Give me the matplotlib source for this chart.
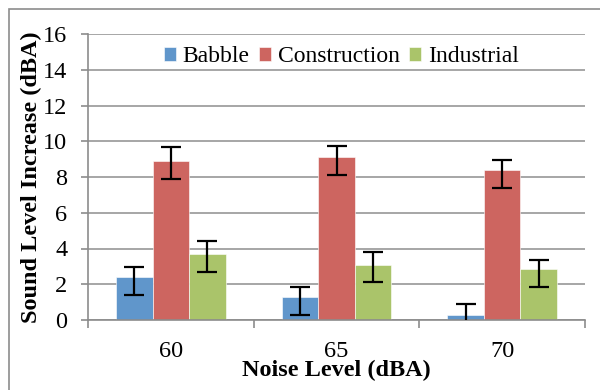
import numpy as np
import matplotlib
matplotlib.use('Agg')
from matplotlib import pyplot as plt
from matplotlib.patches import Rectangle

noise_levels = ['60', '65', '70']
series = ['Babble', 'Construction', 'Industrial']
babble = [2.38, 1.28, 0.26]
construction = [8.87, 9.10, 8.40]
industrial = [3.71, 3.08, 2.84]
# asymmetric error bars (lower, upper)
babble_err = [[0.99, 1.00, 1.00], [0.57, 0.58, 0.65]]
construction_err = [[0.98, 0.99, 1.03], [0.82, 0.61, 0.55]]
industrial_err = [[1.02, 0.98, 0.98], [0.69, 0.71, 0.54]]
colors = ['#6096CB', '#CD6560', '#AAC46A']

plt.rcParams['font.family'] = ['Liberation Serif', 'DejaVu Serif']

fig = plt.figure(figsize=(6, 3.9), dpi=100)
ax = fig.add_axes([88/600, 70/390, 497/600, 286/390])

# outer chart border (only top and left visible in the crop)
fig.patches.append(Rectangle((9/600, -0.1), 1.2, 1.077, transform=fig.transFigure,
                             fill=False, edgecolor='#8C8C8C', linewidth=1.2))

x = np.arange(len(noise_levels))
w = 0.221
data = [babble, construction, industrial]
errs = [babble_err, construction_err, industrial_err]
for i in range(3):
    ax.bar(x + (i - 1) * w, data[i], width=w, color=colors[i], label=series[i],
           edgecolor='white', linewidth=0.4, zorder=2)
    ax.errorbar(x + (i - 1) * w, data[i], yerr=errs[i], fmt='none', ecolor='black',
                elinewidth=1.6, capsize=7, capthick=1.6, zorder=3)

ax.set_xlim(-0.5, 2.5)
ax.set_ylim(0, 16)
ax.set_yticks(np.arange(0, 17, 2))
ax.yaxis.grid(True, color='#A6A6A6', linewidth=1.4, zorder=0)
ax.set_axisbelow(True)

for s in ['top', 'right']:
    ax.spines[s].set_visible(False)
for s in ['left', 'bottom']:
    ax.spines[s].set_color('#8C8C8C')
    ax.spines[s].set_linewidth(1.2)

ax.set_xticks(x)
ax.set_xticklabels(noise_levels)
ax.set_xticks([-0.5, 0.5, 1.5, 2.5], minor=True)
ax.tick_params(axis='x', which='major', length=0, pad=15, labelsize=17.5)
ax.tick_params(axis='x', which='minor', length=6, width=1.2, color='#8C8C8C')
ax.tick_params(axis='y', length=5, width=1.2, color='#8C8C8C', pad=10, labelsize=17.5)

ax.set_xlabel('Noise Level (dBA)', fontsize=17.5, fontweight='bold')
ax.xaxis.set_label_coords(0.5, -0.176)
ax.xaxis.label.set_va('center')
ax.set_ylabel('Sound Level Increase (dBA)', fontsize=17.5, fontweight='bold')
ax.yaxis.set_label_coords(-0.113, 0.5)
ax.yaxis.label.set_va('center')

ax.legend(loc='center', bbox_to_anchor=(0.51, 0.92), ncol=3, frameon=False,
          fontsize=17, handlelength=0.5, handleheight=0.5, handletextpad=0.3,
          columnspacing=0.4, borderaxespad=0)

plt.savefig('out.png', dpi=100)
